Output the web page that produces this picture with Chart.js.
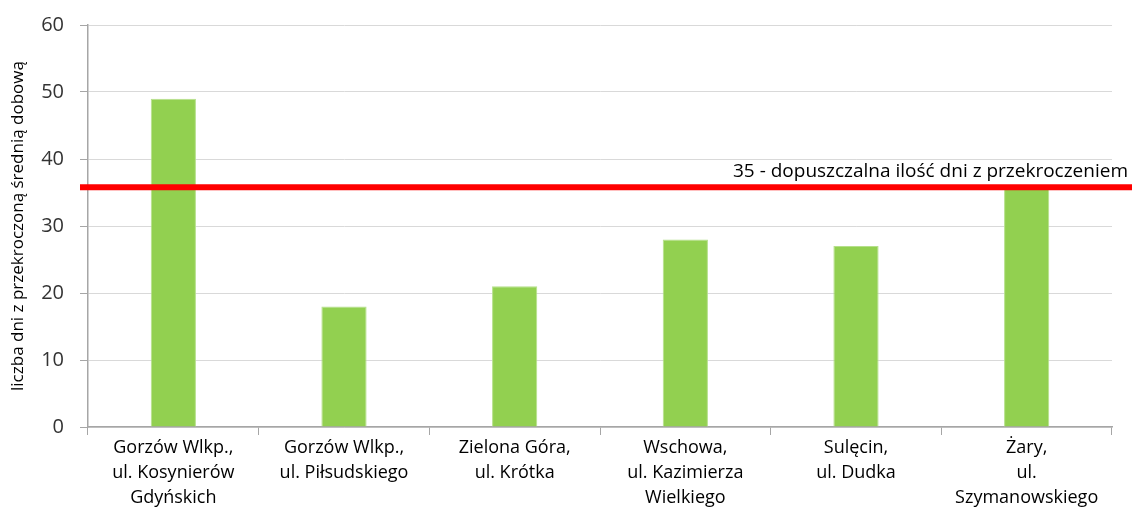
<!DOCTYPE html>
<html>
<head>
<meta charset="utf-8">
<script src="https://cdn.jsdelivr.net/npm/chart.js@4/dist/chart.umd.min.js"></script>
<style>
  html, body { margin: 0; padding: 0; background: #fff; }
  #wrap { width: 1132px; height: 510px; }
</style>
</head>
<body>
<div id="wrap"><canvas id="daysChart"></canvas></div>
<script>
  // data
  const stations = [
      ['Gorzów Wlkp.,', 'ul. Kosynierów', 'Gdyńskich'],
      ['Gorzów Wlkp.,', 'ul. Piłsudskiego'],
      ['Zielona Góra,', 'ul. Krótka'],
      ['Wschowa,', 'ul. Kazimierza', 'Wielkiego'],
      ['Sulęcin,', 'ul. Dudka'],
      ['Żary,', 'ul.', 'Szymanowskiego']
  ];
  const daysOver = [49, 18, 21, 28, 27, 36];
  const limitValue = 35.8;
  const limitLabel = '35 - dopuszczalna ilość dni z przekroczeniem';
  const yTicks = [0, 10, 20, 30, 40, 50, 60];

  const fontFamily = '"Open Sans", sans-serif';

  // red limit line, drawn across the whole width like in the original
  const limitLine = {
      id: 'limitLine',
      afterDatasetsDraw(chart) {
          const c = chart.ctx;
          const y = chart.scales.y.getPixelForValue(limitValue);
          c.save();
          c.strokeStyle = '#ff0000';
          c.lineWidth = 6;
          c.beginPath();
          c.moveTo(80, y);
          c.lineTo(chart.width, y);
          c.stroke();
          c.fillStyle = '#000';
          c.font = '19px ' + fontFamily;
          c.textAlign = 'right';
          c.textBaseline = 'bottom';
          c.fillText(limitLabel, chart.width - 4, y - 6);
          c.restore();
      }
  };

  const ctx = document.getElementById('daysChart').getContext('2d');
  const daysChart = new Chart(ctx, {
      type: 'bar',
      data: {
          labels: stations,
          datasets: [{
              data: daysOver,
              backgroundColor: '#92d050',
              borderColor: '#b5e08a',
              borderWidth: 1,
              barPercentage: 0.265,
              categoryPercentage: 1
          }]
      },
      options: {
          responsive: true,
          maintainAspectRatio: false,
          animation: false,
          layout: { padding: { top: 25, right: 20, left: 0, bottom: 0 } },
          plugins: {
              legend: { display: false },
              tooltip: { enabled: false }
          },
          scales: {
              y: {
                  min: 0,
                  max: 60,
                  afterBuildTicks(scale) {
                      scale.ticks = yTicks.map(v => ({ value: v }));
                  },
                  afterFit(scale) {
                      scale.width = 88;
                      scale.paddingTop = 0;
                      scale.paddingBottom = 0;
                  },
                  title: {
                      display: true,
                      text: 'liczba dni z przekroczoną średnią dobową',
                      color: '#000',
                      font: { family: fontFamily, size: 17 },
                      padding: { top: 8, bottom: 0 }
                  },
                  ticks: {
                      color: '#333',
                      font: { family: fontFamily, size: 20 },
                      padding: 16
                  },
                  grid: {
                      color: '#d9d9d9',
                      tickColor: '#a6a6a6',
                      tickLength: 8
                  },
                  border: { color: '#a6a6a6', width: 1.5 }
              },
              x: {
                  afterFit(scale) {
                      scale.height = 83;
                  },
                  ticks: {
                      color: '#000',
                      font: { family: fontFamily, size: 18, lineHeight: 1.39 },
                      padding: 0,
                      maxRotation: 0,
                      autoSkip: false
                  },
                  grid: {
                      offset: true,
                      drawOnChartArea: false,
                      color: '#a6a6a6',
                      tickLength: 8
                  },
                  border: { color: '#a6a6a6', width: 1.5 }
              }
          }
      },
      plugins: [limitLine]
  });
</script>
</body>
</html>
